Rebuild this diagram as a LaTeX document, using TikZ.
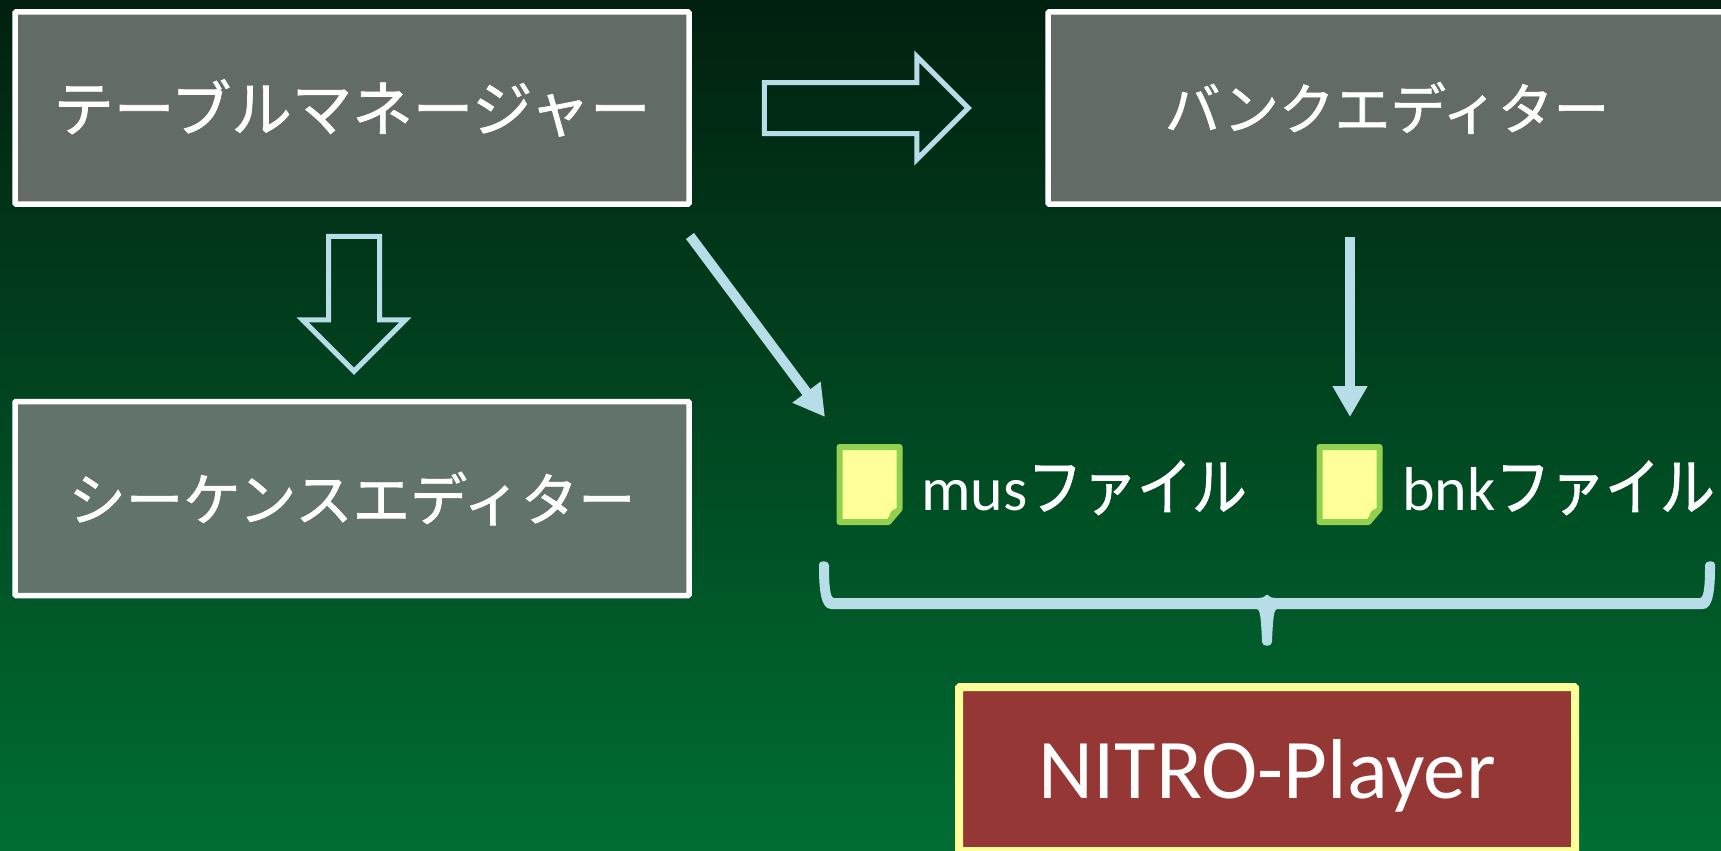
\documentclass[tikz,border=0pt]{standalone}
\usepackage{fontspec}
\setmainfont{Carlito}
\newfontfamily\jp[FakeBold=1.2]{Noto Sans CJK JP}
\newfontfamily\jpn[FakeBold=1.4,FakeStretch=0.87]{Noto Sans CJK JP}
\usetikzlibrary{shapes.arrows,arrows.meta}
\definecolor{bgtop}{HTML}{01200F}
\definecolor{bgbot}{HTML}{006E33}
\definecolor{boxa}{HTML}{626B65}
\definecolor{boxc}{HTML}{61736A}
\definecolor{lineblue}{HTML}{B7DEE8}
\definecolor{paleyellow}{HTML}{FFFF99}
\definecolor{docgreen}{HTML}{92D050}
\definecolor{brick}{HTML}{953735}
\tikzset{
  x=1pt,y=-1pt,
  editorbox/.style={draw=white,line width=5.5pt,rounded corners=1pt,minimum width=674pt,minimum height=192pt,
    text=white,inner sep=0pt,outer sep=0pt,font=\jp},
  hollowarrow/.style={single arrow,draw=lineblue,line width=5pt,fill=none,inner sep=23pt,outer sep=0pt,
    single arrow head extend=26pt,single arrow tip angle=90,miter limit=10},
  thinarrow/.style={draw=lineblue,line width=10pt,-{Triangle[length=31pt,width=33pt,fill=lineblue]}},
  docshape/.style={draw=docgreen,line width=6pt,fill=paleyellow,line join=round},
  filelabel/.style={text=white,anchor=base west,inner sep=0pt,font=\fontsize{62}{62}\selectfont},
}
\newcommand{\docicon}[2]{%
  \draw[docshape] (#1,#2) -- ++(60,0) -- ++(0,62) -- ++(-11,13) -- ++(-49,0) -- cycle;
  \fill[docgreen] (#1+60,#2+61) .. controls (#1+54,#2+62) and (#1+50,#2+62) .. (#1+49,#2+75) -- (#1+52,#2+75) -- (#1+61,#2+64) -- cycle;
}
\begin{document}
\begin{tikzpicture}
\useasboundingbox (0,0) rectangle (1721,851);
\shade[top color=bgtop,bottom color=bgbot] (0,0) rectangle (1721,851);
% boxes
\node[editorbox,fill=boxa] (tm) at (352,108) {\fontsize{60.5}{60.5}\selectfont テーブルマネージャー};
\node[editorbox,fill=boxa,minimum width=678pt] (bank) at (1387,108) {\fontsize{55.7}{55.7}\selectfont バンクエディター};
\node[editorbox,fill=boxc,minimum height=194pt] (seq) at (352,498.5) {\fontsize{57.4}{57.4}\selectfont シーケンスエディター};
\node[draw=paleyellow,fill=brick,line width=8pt,rounded corners=1pt,minimum width=616pt,minimum height=164pt,
  text=white,inner sep=0pt,outer sep=0pt,text height=58pt,text depth=0pt,font=\fontsize{85}{85}\selectfont] (np) at (1267,769) {NITRO-Player};
% hollow arrows
\node[hollowarrow,minimum height=204pt] (ra) at (853.5,108) {};
\node[hollowarrow,minimum height=135pt,rotate=-90] (da) at (354,291) {};
% solid arrows
\coordinate (diagS) at (690,236);
\coordinate (diagE) at (825,417);
\coordinate (vertS) at (1350,237);
\coordinate (vertE) at (1350,417);
\draw[thinarrow] (diagS) -- (diagE);
\draw[thinarrow] (vertS) -- (vertE);
% documents
\docicon{839.5}{447}
\docicon{1319.5}{447}
\node[filelabel] (mus) at (921,510) {mus{\jpn\fontsize{63}{63}\selectfont ファイル}};
\node[filelabel] (bnk) at (1402,510) {bnk{\jpn\fontsize{63}{63}\selectfont ファイル}};
% brace
\fill[lineblue,rounded corners=1pt]
  (819,566) .. controls (818,560) and (829,560) .. (829,566)
  .. controls (829,585) and (830,598) .. (835,598)
  -- (1258,598) .. controls (1262,598) and (1265,597) .. (1267,594)
  .. controls (1269,597) and (1272,598) .. (1276,598)
  -- (1699,598) .. controls (1704,598) and (1705,585) .. (1705,566)
  .. controls (1705,560) and (1716,560) .. (1715,566)
  .. controls (1715,590) and (1713,609) .. (1702,609)
  -- (1278,609) .. controls (1274,609) and (1273,618) .. (1272,641)
  .. controls (1272,647) and (1262,647) .. (1262,641)
  .. controls (1261,618) and (1260,609) .. (1256,609)
  -- (832,609) .. controls (821,609) and (819,590) .. (819,566) -- cycle;
\end{tikzpicture}
\end{document}
